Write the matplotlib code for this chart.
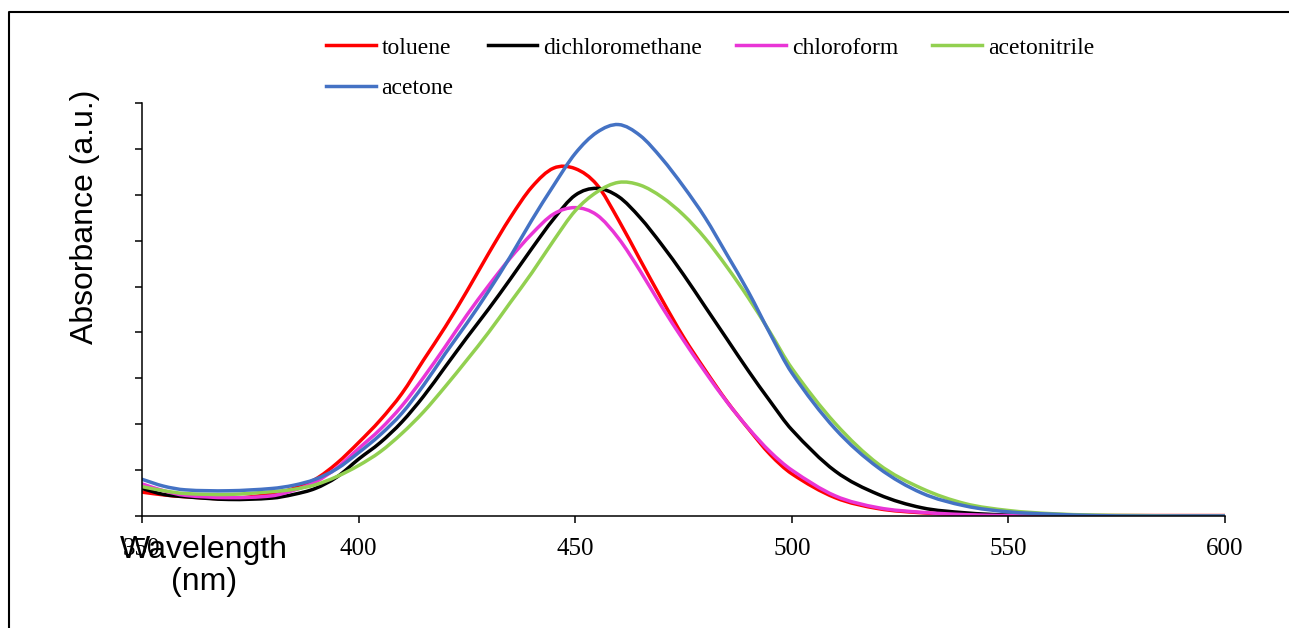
import matplotlib
matplotlib.use('Agg')
import matplotlib.pyplot as plt
from matplotlib.lines import Line2D
from matplotlib.path import Path
from matplotlib.patches import PathPatch

# wavelength grid (nm)
wavelength = [350, 355, 360, 370, 380, 385, 390, 395, 400, 405, 410, 415, 420, 425, 430,
              435, 440, 445, 450, 455, 460, 465, 470, 475, 480, 485, 490, 495, 500,
              510, 520, 530, 540, 550, 560, 570, 580, 590, 600]

toluene = [0.052, 0.046, 0.042, 0.038, 0.048, 0.060, 0.080, 0.115, 0.160, 0.209, 0.267, 0.340, 0.412, 0.490, 0.572,
           0.650, 0.717, 0.758, 0.757, 0.722, 0.645, 0.558, 0.472, 0.390, 0.318, 0.250, 0.190, 0.134, 0.092,
           0.040, 0.016, 0.007, 0.003, 0.001, 0.001, 0.001, 0.001, 0.001, 0.001]
dichloromethane = [0.060, 0.047, 0.042, 0.036, 0.039, 0.047, 0.060, 0.085, 0.124, 0.160, 0.205, 0.261, 0.325, 0.389, 0.451,
                   0.516, 0.583, 0.647, 0.699, 0.714, 0.696, 0.650, 0.591, 0.526, 0.456, 0.386, 0.316, 0.250, 0.188,
                   0.098, 0.047, 0.018, 0.007, 0.002, 0.001, 0.0, 0.0, 0.0, 0.0]
chloroform = [0.070, 0.055, 0.045, 0.040, 0.044, 0.056, 0.074, 0.105, 0.147, 0.189, 0.240, 0.302, 0.369, 0.438, 0.502,
              0.562, 0.615, 0.658, 0.672, 0.656, 0.605, 0.534, 0.456, 0.383, 0.314, 0.249, 0.191, 0.140, 0.100,
              0.044, 0.018, 0.008, 0.003, 0.001, 0.0, 0.0, 0.0, 0.0, 0.0]
acetonitrile = [0.064, 0.055, 0.049, 0.047, 0.053, 0.058, 0.068, 0.086, 0.110, 0.140, 0.180, 0.227, 0.282, 0.340, 0.400,
                0.465, 0.530, 0.600, 0.665, 0.706, 0.727, 0.721, 0.695, 0.656, 0.605, 0.543, 0.475, 0.400, 0.322,
                0.202, 0.113, 0.060, 0.027, 0.012, 0.005, 0.002, 0.001, 0.0, 0.0]
acetone = [0.080, 0.065, 0.057, 0.055, 0.060, 0.067, 0.080, 0.103, 0.138, 0.177, 0.224, 0.285, 0.354, 0.420, 0.490,
           0.565, 0.645, 0.720, 0.790, 0.836, 0.853, 0.829, 0.779, 0.718, 0.650, 0.570, 0.488, 0.397, 0.312,
           0.190, 0.105, 0.050, 0.022, 0.009, 0.004, 0.001, 0.0, 0.0, 0.0]

series = [('toluene', toluene, '#FF0000'),
          ('dichloromethane', dichloromethane, '#000000'),
          ('chloroform', chloroform, '#E935D6'),
          ('acetonitrile', acetonitrile, '#92D050'),
          ('acetone', acetone, '#4472C4')]

xticks = [350, 400, 450, 500, 550, 600]


def smooth_path(xs, ys):
    # smoothed line like excel: bezier segments passing through every data point
    n = len(xs)
    slopes = []
    for i in range(n):
        a = max(i - 1, 0)
        b = min(i + 1, n - 1)
        slopes.append((ys[b] - ys[a]) / (xs[b] - xs[a]))
    verts = [(xs[0], ys[0])]
    codes = [Path.MOVETO]
    for i in range(n - 1):
        h = (xs[i + 1] - xs[i]) / 3
        verts += [(xs[i] + h, ys[i] + slopes[i] * h),
                  (xs[i + 1] - h, ys[i + 1] - slopes[i + 1] * h),
                  (xs[i + 1], ys[i + 1])]
        codes += [Path.CURVE4] * 3
    return Path(verts, codes)


fig = plt.figure(figsize=(12.89, 6.28), dpi=100)
ax = fig.add_axes([142/1289, 1 - 516/628, (1225-142)/1289, (516-103)/628])

handles = {}
for name, vals, col in series:
    ax.add_patch(PathPatch(smooth_path(wavelength, vals), fill=False, edgecolor=col,
                           lw=2.5, capstyle='round', joinstyle='round'))
    handles[name] = Line2D([], [], color=col, lw=2.5)

ax.set_xlim(350, 600)
ax.set_ylim(0, 0.9)
ax.set_xticks(xticks)
ax.set_xticklabels([str(t) for t in xticks], family='Liberation Serif', fontsize=18)
ax.set_yticks([i * 0.1 for i in range(10)])
ax.set_yticklabels([])
ax.tick_params(axis='both', direction='out', length=5, width=1.1, colors='black')
ax.tick_params(axis='x', pad=11)
for s in ['top', 'right']:
    ax.spines[s].set_visible(False)
for s in ['left', 'bottom']:
    ax.spines[s].set_linewidth(1.1)

# axis titles in sans serif
fig.text(85/1289, 1 - 217/628, 'Absorbance (a.u.)', rotation=90, ha='center', va='center',
         family='Liberation Sans', fontsize=23)
fig.text(204/1289, 1 - 566/628, 'Wavelength\n(nm)', ha='center', va='center',
         family='Liberation Sans', fontsize=23, linespacing=1.05)

# legend: column-major order so rows read toluene .. acetonitrile / acetone
order = ['toluene', 'acetone', 'dichloromethane', 'chloroform', 'acetonitrile']
leg = fig.legend([handles[n] for n in order], order, ncol=4, loc='upper left',
                 bbox_to_anchor=(326/1289, 1 - 37/628), frameon=False, borderpad=0,
                 borderaxespad=0, handlelength=2.1, handletextpad=0.25, columnspacing=1.45,
                 labelspacing=0.82, prop={'family': 'Liberation Serif', 'size': 17})

# outer frame (only top and left edges visible)
yb = 1 - 11.5/628
xb = 8.5/1289
fig.add_artist(Line2D([xb, xb, 1.01], [-0.01, yb, yb], transform=fig.transFigure,
                      color='black', lw=1.5))

fig.savefig('out.png', dpi=100)
